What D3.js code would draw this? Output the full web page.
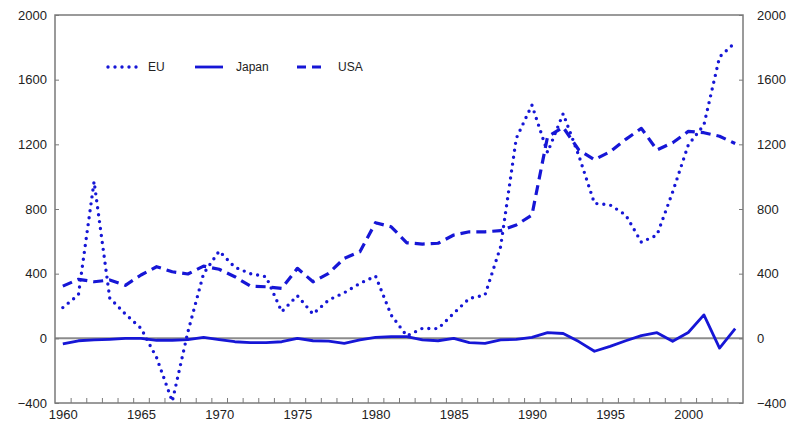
<!DOCTYPE html>
<html>
<head>
<meta charset="utf-8">
<script src="https://cdn.jsdelivr.net/npm/d3@7"></script>
<style>
  body { margin: 0; background: #fff; }
  svg { display: block; font-family: "Liberation Sans", Arial, sans-serif; }
</style>
</head>
<body>
<svg id="chart" width="790" height="425"></svg>
<script>
const years = d3.range(1960, 2004);
const euValues = [190, 270, 970, 250, 150, 62, -120, -390, 40, 400,
  540, 440, 400, 381, 165, 264, 150, 237, 282, 340,
  385, 144, 15, 62, 60, 155, 247, 268, 567, 1237,
  1443, 1150, 1390, 1130, 835, 825, 763, 595, 639, 905,
  1196, 1320, 1740, 1830];
const japanValues = [-35, -15, -10, -6, 0, 0, -12, -12, -8, 6,
  -8, -21, -27, -27, -21, 0, -15, -17, -31, -10,
  6, 10, 10, -10, -15, 0, -27, -31, -10, -6,
  6, 35, 30, -20, -80, -50, -15, 17, 35, -18,
  36, 145, -60, 60];
const usaValues = [323, 365, 350, 361, 328, 392, 443, 412, 398, 447,
  427, 381, 323, 319, 309, 433, 350, 402, 495, 536,
  715, 690, 591, 583, 588, 639, 659, 659, 666, 701,
  762, 1247, 1305, 1165, 1105, 1154, 1231, 1299, 1165, 1210,
  1280, 1272, 1250, 1205];
const seriesNames = ["EU", "Japan", "USA"];
const yTicks = [-400, 0, 400, 800, 1200, 1600, 2000];
const xLabelYears = [1960, 1965, 1970, 1975, 1980, 1985, 1990, 1995, 2000];
const xTickYears = d3.range(1960.5, 2003, 1);

const blue = "#1616d6";
const frameColor = "#7a7a7a";

const svg = d3.select("#chart");
const x = d3.scaleLinear().domain([1959.5, 2003.5]).range([55, 743]);
const y = d3.scaleLinear().domain([-400, 2000]).range([403, 15]);

// zero line
svg.append("line")
  .attr("x1", x(1959.5)).attr("x2", x(2003.5))
  .attr("y1", y(0)).attr("y2", y(0))
  .attr("stroke", "#8c8c8c").attr("stroke-width", 2);

// axes
function styleAxis(g) {
  g.select(".domain").remove();
  g.selectAll(".tick line").attr("stroke", frameColor).attr("stroke-width", 1);
  g.selectAll("text").attr("fill", "#222").attr("font-size", 13)
    .attr("font-family", "Liberation Sans, Arial, sans-serif");
}
svg.append("g").attr("transform", `translate(0,${y(-400)})`)
  .call(d3.axisBottom(x).tickValues(xTickYears).tickSize(-5).tickFormat(""))
  .call(styleAxis);
svg.append("g").attr("transform", `translate(0,${y(-400)})`)
  .call(d3.axisBottom(x).tickValues(xLabelYears).tickSize(0).tickPadding(7).tickFormat(d3.format("d")))
  .call(styleAxis);
svg.append("g").attr("transform", `translate(${x(1959.5)},0)`)
  .call(d3.axisLeft(y).tickValues(yTicks).tickSize(-4).tickPadding(8).tickFormat(d3.format("d")))
  .call(styleAxis);
svg.append("g").attr("transform", `translate(${x(2003.5)},0)`)
  .call(d3.axisRight(y).tickValues(yTicks).tickSize(-4).tickPadding(14).tickFormat(d3.format("d")))
  .call(styleAxis);

// frame
svg.append("rect")
  .attr("x", x(1959.5)).attr("y", y(2000))
  .attr("width", x(2003.5) - x(1959.5)).attr("height", y(-400) - y(2000))
  .attr("fill", "none").attr("stroke", frameColor).attr("stroke-width", 1.5);

const styles = {
  EU: { dash: "0,7", cap: "round", width: 3.4 },
  Japan: { dash: null, cap: "butt", width: 2.8 },
  USA: { dash: "10,6", cap: "butt", width: 3.2 }
};
const dataBy = { EU: euValues, Japan: japanValues, USA: usaValues };

const line = d3.line().x((d, i) => x(years[i])).y(d => y(d));
["Japan", "USA", "EU"].forEach(name => {
  const s = styles[name];
  svg.append("path")
    .datum(dataBy[name])
    .attr("d", line)
    .attr("fill", "none")
    .attr("stroke", blue)
    .attr("stroke-width", s.width)
    .attr("stroke-linecap", s.cap)
    .attr("stroke-linejoin", "round")
    .attr("stroke-dasharray", s.dash);
});

// legend
const legendPos = { EU: [108, 137, 148], Japan: [195, 223, 236], USA: [297, 327, 338] };
const ly = 67;
seriesNames.forEach(name => {
  const s = styles[name];
  const p = legendPos[name];
  svg.append("line")
    .attr("x1", p[0]).attr("x2", p[1]).attr("y1", ly).attr("y2", ly)
    .attr("stroke", blue).attr("stroke-width", s.width)
    .attr("stroke-linecap", s.cap)
    .attr("stroke-dasharray", name === "USA" ? "9,6" : s.dash);
  svg.append("text")
    .attr("x", p[2]).attr("y", ly).attr("dy", "0.35em")
    .attr("font-size", 12).attr("fill", "#222")
    .text(name);
});
</script>
</body>
</html>
